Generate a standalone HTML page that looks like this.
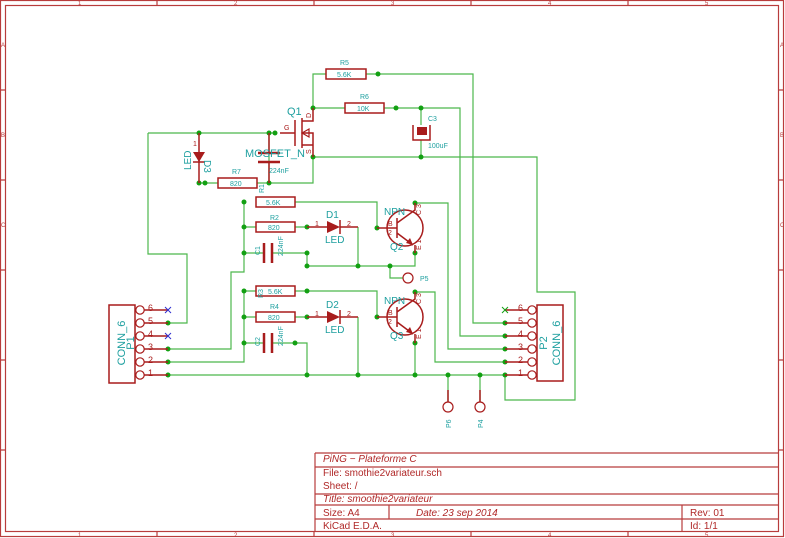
<!DOCTYPE html>
<html><head><meta charset="utf-8"><style>
html,body{margin:0;padding:0;background:#fff;width:785px;height:538px;overflow:hidden}
svg{display:block}
text{font-family:"Liberation Sans",sans-serif}
</style></head><body>
<svg width="785" height="538" viewBox="0 0 785 538" xmlns="http://www.w3.org/2000/svg">
<!-- border -->
<g stroke="#b83c3c" fill="none" stroke-width="1.2">
<rect x="0.5" y="0.5" width="783" height="536"/>
<rect x="5.5" y="5.5" width="773" height="526"/>
<path d="M157 0v5M314 0v5M471 0v5M628 0v5M157 532v5M314 532v5M471 532v5M628 532v5M0 90h5M0 180h5M0 270h5M0 360h5M0 450h5M779 90h5M779 180h5M779 270h5M779 360h5M779 450h5"/>
</g>
<g fill="#b83c3c" font-size="6">
<text x="78" y="5">1</text><text x="234" y="5">2</text><text x="391" y="5">3</text><text x="548" y="5">4</text><text x="705" y="5">5</text>
<text x="78" y="537">1</text><text x="234" y="537">2</text><text x="391" y="537">3</text><text x="548" y="537">4</text><text x="705" y="537">5</text>
<text x="1" y="47">A</text><text x="1" y="137">B</text><text x="1" y="227">C</text>
<text x="780" y="47">A</text><text x="780" y="137">B</text><text x="780" y="227">C</text>
</g>
<!-- title block -->
<g stroke="#b83c3c" fill="none" stroke-width="1.2">
<path d="M315 453H779M315 467H779M315 494H779M315 505H779M315 519H779M315 453V532M389 505V519M682 505V532"/>
</g>
<g fill="#b02828" font-size="10" font-family="DejaVu Sans,sans-serif">
<text x="323" y="462" font-style="italic">PiNG − Plateforme C</text>
<text x="323" y="476">File: smothie2variateur.sch</text>
<text x="323" y="489">Sheet: /</text>
<text x="323" y="502" font-style="italic">Title: smoothie2variateur</text>
<text x="323" y="516">Size: A4</text>
<text x="416" y="516" font-style="italic">Date: 23 sep 2014</text>
<text x="690" y="516">Rev: 01</text>
<text x="323" y="529">KiCad E.D.A.</text>
<text x="690" y="529">Id: 1/1</text>
</g>
<!-- wires -->
<g stroke="#4cb84c" fill="none" stroke-width="1.2">
<path d="M313 108V74H326M366 74H473V323H505"/>
<path d="M313 108H345M384 108H460V336H505"/>
<path d="M313 157H537V292H575V400H505V375"/>
<path d="M148 133H275M148 133V254H187V323H168"/>
<path d="M199 183H218M257 183H313V157M269 133V183"/>
<path d="M244 202V272H231V349H168"/>
<path d="M295 202H377V228M244 227H256M295 227H307M244 253H264M272 253H307V266M307 266H415V253M390 266V278H403M358 227V266"/>
<path d="M415 203H448V349H505M415 292H435V362H505"/>
<path d="M244 291V362H168M244 291H256M295 291H377V317M244 317H256M295 317H307M244 343H264M272 343H307V375M358 317V375M415 343V375"/>
<path d="M168 375H505M448 375V402M480 375V402"/>
<path d="M421 108V125M421 140V157"/>
</g>
<g fill="#12a012">
<circle cx="378" cy="74" r="2.5"/><circle cx="313" cy="108" r="2.5"/><circle cx="396" cy="108" r="2.5"/><circle cx="421" cy="108" r="2.5"/>
<circle cx="313" cy="157" r="2.5"/><circle cx="421" cy="157" r="2.5"/><circle cx="199" cy="133" r="2.5"/><circle cx="269" cy="133" r="2.5"/><circle cx="275" cy="133" r="2.5"/>
<circle cx="199" cy="183" r="2.5"/><circle cx="205" cy="183" r="2.5"/><circle cx="269" cy="183" r="2.5"/>
<circle cx="244" cy="202" r="2.5"/><circle cx="244" cy="227" r="2.5"/><circle cx="307" cy="227" r="2.5"/><circle cx="244" cy="253" r="2.5"/><circle cx="307" cy="253" r="2.5"/>
<circle cx="307" cy="266" r="2.5"/><circle cx="358" cy="266" r="2.5"/><circle cx="390" cy="266" r="2.5"/><circle cx="377" cy="228" r="2.5"/><circle cx="415" cy="203" r="2.5"/><circle cx="415" cy="253" r="2.5"/>
<circle cx="244" cy="291" r="2.5"/><circle cx="307" cy="291" r="2.5"/><circle cx="244" cy="317" r="2.5"/><circle cx="307" cy="317" r="2.5"/><circle cx="244" cy="343" r="2.5"/><circle cx="295" cy="343" r="2.5"/>
<circle cx="377" cy="317" r="2.5"/><circle cx="415" cy="292" r="2.5"/><circle cx="415" cy="343" r="2.5"/>
<circle cx="168" cy="323" r="2.5"/><circle cx="168" cy="349" r="2.5"/><circle cx="168" cy="362" r="2.5"/><circle cx="168" cy="375" r="2.5"/>
<circle cx="307" cy="375" r="2.5"/><circle cx="358" cy="375" r="2.5"/><circle cx="415" cy="375" r="2.5"/><circle cx="448" cy="375" r="2.5"/><circle cx="480" cy="375" r="2.5"/><circle cx="505" cy="375" r="2.5"/>
<circle cx="505" cy="323" r="2.5"/><circle cx="505" cy="336" r="2.5"/><circle cx="505" cy="349" r="2.5"/><circle cx="505" cy="362" r="2.5"/>
</g>
<!-- components -->
<g stroke="#a81c1c" fill="none" stroke-width="1.5">
<rect x="326" y="69" width="40" height="10"/><rect x="345" y="103" width="39" height="10"/>
<rect x="218" y="178" width="39" height="10"/>
<rect x="256" y="197" width="39" height="10"/><rect x="256" y="222" width="39" height="10"/>
<rect x="256" y="286" width="39" height="10"/><rect x="256" y="312" width="39" height="10"/>
<path d="M295 120V146M302 118V148M302 121H313V108M302 145H313V157M302 133H313V145M295 133H280"/>
<path d="M258 153H280M258 162H280" stroke-width="2.5"/>
<path d="M269 133V153M269 162V183"/>
<path d="M413 125V140H430V125"/>
<path d="M199 133V183"/>
<path d="M264 243V263M272 243V263M264 333V353M272 333V353" stroke-width="2.5"/>
<path d="M307 227H327M340 227H358M307 317H327M340 317H358M340 220V234M340 310V324"/>
<circle cx="405" cy="228" r="18"/><circle cx="405" cy="317" r="18"/>
<path d="M397 218V238M377 228H397M397 223L415 210V203M397 233L413 245M415 245V253"/>
<path d="M397 307V327M377 317H397M397 312L415 299V292M397 322L413 334M415 334V343"/>
<rect x="109" y="305" width="26" height="78"/><rect x="537" y="305" width="26" height="76"/>
<path d="M144 310H168M144 323H168M144 336H168M144 349H168M144 362H168M144 375H168M505 310H528M505 323H528M505 336H528M505 349H528M505 362H528M505 375H528"/>
<path d="M448 390V402M480 390V402"/>
</g>
<g fill="none" stroke="#a81c1c" stroke-width="1.2">
<circle cx="140" cy="310" r="4.2" fill="#fff"/><circle cx="140" cy="323" r="4.2" fill="#fff"/><circle cx="140" cy="336" r="4.2" fill="#fff"/><circle cx="140" cy="349" r="4.2" fill="#fff"/><circle cx="140" cy="362" r="4.2" fill="#fff"/><circle cx="140" cy="375" r="4.2" fill="#fff"/>
<circle cx="532" cy="310" r="4.2" fill="#fff"/><circle cx="532" cy="323" r="4.2" fill="#fff"/><circle cx="532" cy="336" r="4.2" fill="#fff"/><circle cx="532" cy="349" r="4.2" fill="#fff"/><circle cx="532" cy="362" r="4.2" fill="#fff"/><circle cx="532" cy="375" r="4.2" fill="#fff"/>
<circle cx="408" cy="278" r="5"/><circle cx="448" cy="407" r="5"/><circle cx="480" cy="407" r="5"/>
<path d="M302 133L309 129V137Z"/>
</g>
<g fill="#a81c1c">
<rect x="417" y="127" width="10" height="8"/>
<path d="M193 152H205L199 162Z"/><path d="M193 162H205" stroke="#a81c1c" stroke-width="1.5"/>
<path d="M327 221V233L340 227Z"/><path d="M327 311V323L340 317Z"/>
<path d="M413 245L406 243L410 238Z"/><path d="M413 334L406 332L410 327Z"/>
</g>
<g stroke="#3030d0" stroke-width="1"><path d="M165 307l6 6M171 307l-6 6M165 333l6 6M171 333l-6 6"/></g>
<g stroke="#12a012" stroke-width="1"><path d="M502 307l6 6M508 307l-6 6"/></g>
<!-- text -->
<g fill="#1fa0a0" font-size="7" font-family="DejaVu Sans,sans-serif">
<text x="340" y="65">R5</text><text x="337" y="77">5.6K</text>
<text x="360" y="99">R6</text><text x="357" y="111">10K</text>
<text x="428" y="121">C3</text><text x="428" y="148">100uF</text>
<text x="232" y="174">R7</text><text x="230" y="186">820</text>
<text x="269" y="173">224nF</text>
<text x="266" y="205">5.6K</text><text x="270" y="220">R2</text><text x="268" y="230">820</text>
<text x="268" y="294">5.6K</text><text x="270" y="309">R4</text><text x="268" y="320">820</text>
<text x="420" y="281">P5</text>
<text transform="translate(264 193) rotate(-90)">R1</text>
<text transform="translate(263 298) rotate(-90)">R3</text>
<text transform="translate(260 255) rotate(-90)">C1</text>
<text transform="translate(260 346) rotate(-90)">C2</text>
<text transform="translate(283 256) rotate(-90)">224nF</text>
<text transform="translate(283 346) rotate(-90)">224nF</text>
<text transform="translate(451 428) rotate(-90)">P6</text>
<text transform="translate(483 428) rotate(-90)">P4</text>
</g>
<g fill="#1fa0a0" font-size="10" font-family="DejaVu Sans,sans-serif">
<text x="287" y="115" font-size="11">Q1</text>
<text x="245" y="157" font-size="11">MOSFET_N</text>
<text x="326" y="218">D1</text><text x="325" y="243">LED</text>
<text x="326" y="308">D2</text><text x="325" y="333">LED</text>
<text x="384" y="215">NPN</text><text x="390" y="250">Q2</text>
<text x="384" y="304">NPN</text><text x="390" y="339">Q3</text>
<text transform="translate(191 170) rotate(-90)">LED</text>
<text transform="translate(204 160) rotate(90)" font-size="10">D3</text>
<text transform="translate(125 343) rotate(-90)" font-size="11" text-anchor="middle">CONN_6</text>
<text transform="translate(134 343) rotate(-90)" font-size="11" text-anchor="middle">P1</text>
<text transform="translate(547 343) rotate(-90)" font-size="11" text-anchor="middle">P2</text>
<text transform="translate(560 343) rotate(-90)" font-size="11" text-anchor="middle">CONN_6</text>
</g>
<g fill="#a81c1c" font-size="7" font-family="DejaVu Sans,sans-serif">
<text x="284" y="130">G</text><text x="193" y="146">1</text>
<text x="315" y="226">1</text><text x="347" y="226">2</text><text x="315" y="316">1</text><text x="347" y="316">2</text>
<text x="388" y="226">B</text><text x="388" y="235">2</text><text x="388" y="315">B</text><text x="388" y="324">2</text>
<text transform="translate(311 118) rotate(-90)">D</text><text transform="translate(311 154) rotate(-90)">S</text>
<text transform="translate(421 215) rotate(-90)">C 3</text><text transform="translate(421 250) rotate(-90)">E 1</text>
<text transform="translate(421 304) rotate(-90)">C 3</text><text transform="translate(421 339) rotate(-90)">E 1</text>
</g>
<g fill="#a81c1c" font-size="9" font-family="DejaVu Sans,sans-serif">
<text x="148" y="311">6</text><text x="148" y="324">5</text><text x="148" y="337">4</text><text x="148" y="350">3</text><text x="148" y="363">2</text><text x="148" y="376">1</text>
<text x="518" y="311">6</text><text x="518" y="324">5</text><text x="518" y="337">4</text><text x="518" y="350">3</text><text x="518" y="363">2</text><text x="518" y="376">1</text>
</g>
</svg>
</body></html>
